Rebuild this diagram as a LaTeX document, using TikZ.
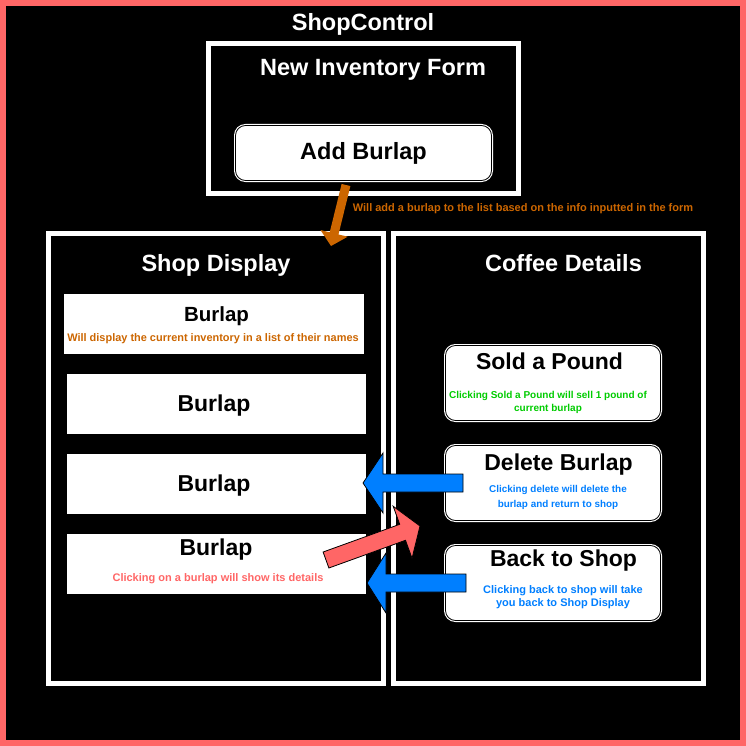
\documentclass[tikz,border=0pt]{standalone}
\usepackage{fontspec}
\setmainfont{Liberation Sans}
\usetikzlibrary{calc}
\definecolor{cOrange}{HTML}{CC6600}
\definecolor{cRed}{HTML}{FF6666}
\definecolor{cGreen}{HTML}{00CC00}
\definecolor{cBlue}{HTML}{007FFF}
% #1 style, #2 start coord, #3 end coord, #4 shaft half width, #5 head half width, #6 head length
\newcommand\blockarrow[6]{%
  \coordinate (#2-#3-hb) at ($(#3)!#6!(#2)$);
  \path[#1] ($(#2)!#4!90:(#3)$) -- ($(#2-#3-hb)!#4!90:(#3)$) -- ($(#2-#3-hb)!#5!90:(#3)$)
    -- (#3) -- ($(#2-#3-hb)!#5!-90:(#3)$) -- ($(#2-#3-hb)!#4!-90:(#3)$) -- ($(#2)!#4!-90:(#3)$) -- cycle;
}
\begin{document}
\begin{tikzpicture}[x=1pt,y=-1pt,
  frame/.style={draw=white, line width=5pt},
  title/.style={text=white, inner sep=0pt, anchor=base, font=\bfseries\fontsize{23.5}{28}\selectfont},
  big/.style={text=black, inner sep=0pt, anchor=base, font=\bfseries\fontsize{#1}{28}\selectfont},
  small/.style={inner sep=0pt, anchor=base, font=\bfseries\fontsize{#1}{13}\selectfont},
  item/.style={fill=white, draw=white, inner sep=0pt},
  btn/.style={fill=white, draw=black, line width=0.8pt, rounded corners=10pt, inner sep=0pt,
    preaction={draw=white, line width=3pt}},
  barrow/.style={fill=#1, draw=black, line width=0.8pt, line join=miter}
]
\useasboundingbox (0,0) rectangle (746,746);
\fill[black] (0,0) rectangle (746,746);
\draw[cRed, line width=6pt] (3,3) rectangle (743,743);

% frames
\draw[frame] (208.5,43.5) rectangle (518.5,193.5);
\draw[frame] (48.5,233.5) rectangle (383.5,683.5);
\draw[frame] (393.5,233.5) rectangle (703.5,683.5);

% titles
\node[title] (tShopControl) at (363,31) {ShopControl};
\node[title] (tForm) at (373,76) {New Inventory Form};
\node[title] (tShop) at (216,271) {Shop Display};
\node[title] (tCoffee) at (563.5,271) {Coffee Details};

% add burlap button
\node[btn, minimum width=256pt, minimum height=55pt] (addb) at (363.5,153) {};
\node[big=23.5] (addbT) at (363.5,160) {Add Burlap};

% shop display items
\node[item, minimum width=299pt, minimum height=59pt] (item1) at (213.5,323.5) {};
\node[big=20.5] (item1T) at (216.5,321) {Burlap};
\node[small=10.95, text=cOrange] (item1S) at (213,341) {Will display the current inventory in a list of their names};
\node[item, minimum width=298pt, minimum height=59pt] (item2) at (216,403.5) {};
\node[big=23] (item2T) at (214,411) {Burlap};
\node[item, minimum width=298pt, minimum height=59pt] (item3) at (216,483.5) {};
\node[big=23] (item3T) at (214,491) {Burlap};
\node[item, minimum width=298pt, minimum height=59pt] (item4) at (216,563.5) {};
\node[big=23] (item4T) at (216,555) {Burlap};
\node[small=11, text=cRed] (item4S) at (218,581) {Clicking on a burlap will show its details};

% coffee details buttons
\node[btn, minimum width=215pt, minimum height=75pt] (sold) at (553,383) {};
\node[big=23] (soldT) at (549.5,369) {Sold a Pound};
\node[small=10, text=cGreen] (soldS1) at (548,398) {Clicking Sold a Pound will sell 1 pound of};
\node[small=10, text=cGreen] (soldS2) at (548,411) {current burlap};

\node[btn, minimum width=215pt, minimum height=75pt] (del) at (553,483) {};
\node[big=23] (delT) at (558.5,470) {Delete Burlap};
\node[small=9.9, text=cBlue] (delS1) at (558,492) {Clicking delete will delete the};
\node[small=9.9, text=cBlue] (delS2) at (558,507) {burlap and return to shop};

\node[btn, minimum width=215pt, minimum height=75pt] (back) at (553,583) {};
\node[big=23] (backT) at (563.5,566) {Back to Shop};
\node[small=11, text=cBlue] (backS1) at (563,593) {Clicking back to shop will take};
\node[small=11, text=cBlue] (backS2) at (563,606) {you back to Shop Display};

% orange arrow label
\node[small=11, text=cOrange] (oLabel) at (523,211) {Will add a burlap to the list based on the info inputted in the form};

% arrows
\coordinate (oS) at (346,185);
\coordinate (oE) at (331,246);
\blockarrow{fill=cOrange}{oS}{oE}{4.5pt}{14pt}{13pt}

\coordinate (b1S) at (463,483);
\coordinate (b1E) at (363,483);
\blockarrow{barrow=cBlue}{b1S}{b1E}{9pt}{30pt}{20pt}

\coordinate (b2S) at (466,583);
\coordinate (b2E) at (367,583);
\blockarrow{barrow=cBlue}{b2S}{b2E}{9pt}{30pt}{19pt}

\coordinate (rS) at (326,560);
\coordinate (rE) at (420,526);
\blockarrow{barrow=cRed}{rS}{rE}{8.5pt}{27.7pt}{18.5pt}
\end{tikzpicture}
\end{document}
